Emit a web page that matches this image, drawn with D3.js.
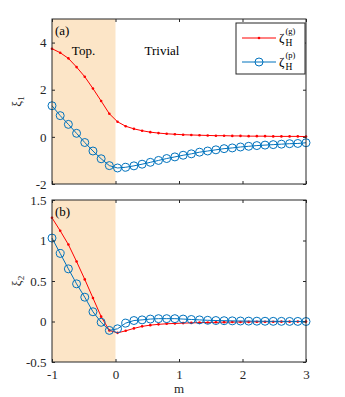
<!DOCTYPE html>
<html>
<head>
<meta charset="utf-8">
<script src="https://cdn.jsdelivr.net/npm/d3@7"></script>
<style>
body { margin: 0; background: #fff; }
svg { display: block; font-family: "Liberation Serif", "Times New Roman", serif; }
</style>
</head>
<body>
<div id="chart"></div>
<script>
"use strict";

// m grid (32 samples, -1 .. 3)
var mVals = [-1.000, -0.871, -0.742, -0.613, -0.484, -0.355, -0.226, -0.097,
              0.032,  0.161,  0.290,  0.419,  0.548,  0.677,  0.806,  0.935,
              1.065,  1.194,  1.323,  1.452,  1.581,  1.710,  1.839,  1.968,
              2.097,  2.226,  2.355,  2.484,  2.613,  2.742,  2.871,  3.000];

// panel (a): xi_1
var xi1G = [3.74, 3.57, 3.33, 2.96, 2.55, 2.05, 1.52, 0.98,
            0.64, 0.45, 0.34, 0.26, 0.20, 0.16, 0.13, 0.11,
            0.09, 0.08, 0.07, 0.06, 0.05, 0.05, 0.04, 0.04,
            0.03, 0.03, 0.03, 0.02, 0.02, 0.02, 0.02, 0.01];
var xi1P = [1.32, 0.90, 0.53, 0.15, -0.24, -0.60, -0.93, -1.22,
            -1.32, -1.29, -1.23, -1.16, -1.08, -1.00, -0.92, -0.85,
            -0.78, -0.72, -0.65, -0.60, -0.55, -0.50, -0.47, -0.43,
            -0.40, -0.37, -0.35, -0.33, -0.31, -0.29, -0.28, -0.25];

// panel (b): xi_2
var xi2G = [1.28, 1.12, 0.95, 0.74, 0.52, 0.29, 0.06, -0.11,
            -0.14, -0.115, -0.085, -0.06, -0.045, -0.035, -0.028, -0.024,
            -0.02, -0.017, -0.014, -0.012, -0.01, -0.008, -0.007, -0.006,
            -0.005, -0.004, -0.003, -0.003, -0.002, -0.002, -0.001, -0.001];
var xi2P = [1.03, 0.84, 0.65, 0.465, 0.30, 0.12, -0.01, -0.11,
            -0.09, -0.02, 0.012, 0.02, 0.03, 0.035, 0.035, 0.035,
            0.03, 0.025, 0.02, 0.015, 0.012, 0.01, 0.008, 0.006,
            0.005, 0.004, 0.003, 0.002, 0.002, 0.001, 0.001, 0.0];

var xTicks = [-1, 0, 1, 2, 3];
var y1Ticks = [-2, 0, 2, 4];
var y2Ticks = [-0.5, 0, 0.5, 1, 1.5];
var topoRange = [-1, 0];

var W = 345, H = 397;
var left = 52, right = 306;
var red = "#ff0000", blue = "#0072bd", axisCol = "#262626", shade = "#fce5c7";
var serif = "'Liberation Serif', 'Times New Roman', serif";

var svg = d3.select("#chart").append("svg").attr("width", W).attr("height", H);

var x = d3.scaleLinear().domain([-1, 3]).range([left, right]);

function drawPanel(top, bottom, yDomain, yTicks, gVals, pVals, showX, tag, ylab, sub){
    var y = d3.scaleLinear().domain(yDomain).range([bottom, top]);
    var g = svg.append("g");

    g.append("rect")
        .attr("x", x(topoRange[0])).attr("y", top)
        .attr("width", x(topoRange[1]) - x(topoRange[0]))
        .attr("height", bottom - top)
        .attr("fill", shade);

    var line = d3.line().x(function(d, i){ return x(mVals[i]); }).y(function(d){ return y(d); });

    g.append("path").datum(gVals).attr("d", line)
        .attr("fill", "none").attr("stroke", red).attr("stroke-width", 1);
    g.selectAll(".gdot").data(gVals).enter().append("circle")
        .attr("cx", function(d, i){ return x(mVals[i]); })
        .attr("cy", function(d){ return y(d); })
        .attr("r", 1.3).attr("fill", red);

    g.append("path").datum(pVals).attr("d", line)
        .attr("fill", "none").attr("stroke", blue).attr("stroke-width", 1);
    g.selectAll(".pdot").data(pVals).enter().append("circle")
        .attr("cx", function(d, i){ return x(mVals[i]); })
        .attr("cy", function(d){ return y(d); })
        .attr("r", 4).attr("fill", "none").attr("stroke", blue).attr("stroke-width", 1);

    var fmt = function(d){ return String(d); };
    var ax = g.append("g");

    var bAxis = d3.axisBottom(x).tickValues(xTicks).tickSize(-3).tickSizeOuter(0).tickPadding(8)
        .tickFormat(showX ? fmt : "");
    ax.append("g").attr("transform", "translate(0," + bottom + ")").call(bAxis);
    ax.append("g").attr("transform", "translate(0," + top + ")")
        .call(d3.axisTop(x).tickValues(xTicks).tickSize(-3).tickSizeOuter(0).tickFormat(""));
    ax.append("g").attr("transform", "translate(" + left + ",0)")
        .call(d3.axisLeft(y).tickValues(yTicks).tickSize(-3).tickSizeOuter(0).tickPadding(5.5).tickFormat(fmt));
    ax.append("g").attr("transform", "translate(" + right + ",0)")
        .call(d3.axisRight(y).tickValues(yTicks).tickSize(-3).tickSizeOuter(0).tickFormat(""));
    ax.selectAll(".domain").remove();
    ax.selectAll("g").attr("font-size", 13).attr("font-family", serif);
    ax.selectAll(".tick line").attr("stroke", axisCol);
    ax.selectAll(".tick text").attr("fill", axisCol);

    g.append("rect").attr("x", left).attr("y", top)
        .attr("width", right - left).attr("height", bottom - top)
        .attr("fill", "none").attr("stroke", axisCol).attr("stroke-width", 1);

    g.append("text").attr("x", left + 3).attr("y", top + 16)
        .attr("font-size", 13).attr("fill", "#000").text(tag);

    var yl = g.append("text")
        .attr("transform", "translate(21," + ((top + bottom) / 2) + ") rotate(-90)")
        .attr("text-anchor", "middle").attr("font-size", 13).attr("fill", axisCol);
    yl.append("tspan").text(ylab);
    yl.append("tspan").attr("font-size", 9).attr("dy", 3).text(sub);
    return y;
}

drawPanel(19, 184, [-2, 5], y1Ticks, xi1G, xi1P, false, "(a)", "ξ", "1");
drawPanel(200, 362, [-0.5, 1.5], y2Ticks, xi2G, xi2P, true, "(b)", "ξ", "2");

// region labels
svg.append("text").attr("x", 83.5).attr("y", 55).attr("text-anchor", "middle")
    .attr("font-size", 13).text("Top.");
svg.append("text").attr("x", 162).attr("y", 55).attr("text-anchor", "middle")
    .attr("font-size", 13).text("Trivial");

// x label
svg.append("text").attr("x", (left + right) / 2).attr("y", 393).attr("text-anchor", "middle")
    .attr("font-size", 13).attr("fill", axisCol).text("m");

// legend
var lg = svg.append("g");
lg.append("rect").attr("x", 236).attr("y", 23).attr("width", 69).attr("height", 51)
    .attr("fill", "#fff").attr("stroke", axisCol).attr("stroke-width", 1);
var legendItems = [
    {cy: 38, col: red, sup: "(g)", dot: true},
    {cy: 62, col: blue, sup: "(p)", dot: false}
];
legendItems.forEach(function(it){
    lg.append("line").attr("x1", 242).attr("x2", 276).attr("y1", it.cy).attr("y2", it.cy)
        .attr("stroke", it.col).attr("stroke-width", 1);
    if (it.dot) {
        lg.append("circle").attr("cx", 259).attr("cy", it.cy).attr("r", 1.3).attr("fill", it.col);
    } else {
        lg.append("circle").attr("cx", 259).attr("cy", it.cy).attr("r", 4)
            .attr("fill", "none").attr("stroke", it.col).attr("stroke-width", 1);
    }
    lg.append("text").attr("x", 279).attr("y", it.cy + 4).attr("font-size", 13).text("ζ");
    lg.append("text").attr("x", 285.5).attr("y", it.cy - 4).attr("font-size", 8.5).text(it.sup);
    lg.append("text").attr("x", 285.5).attr("y", it.cy + 7.5).attr("font-size", 9.5).text("H");
});
</script>
</body>
</html>
